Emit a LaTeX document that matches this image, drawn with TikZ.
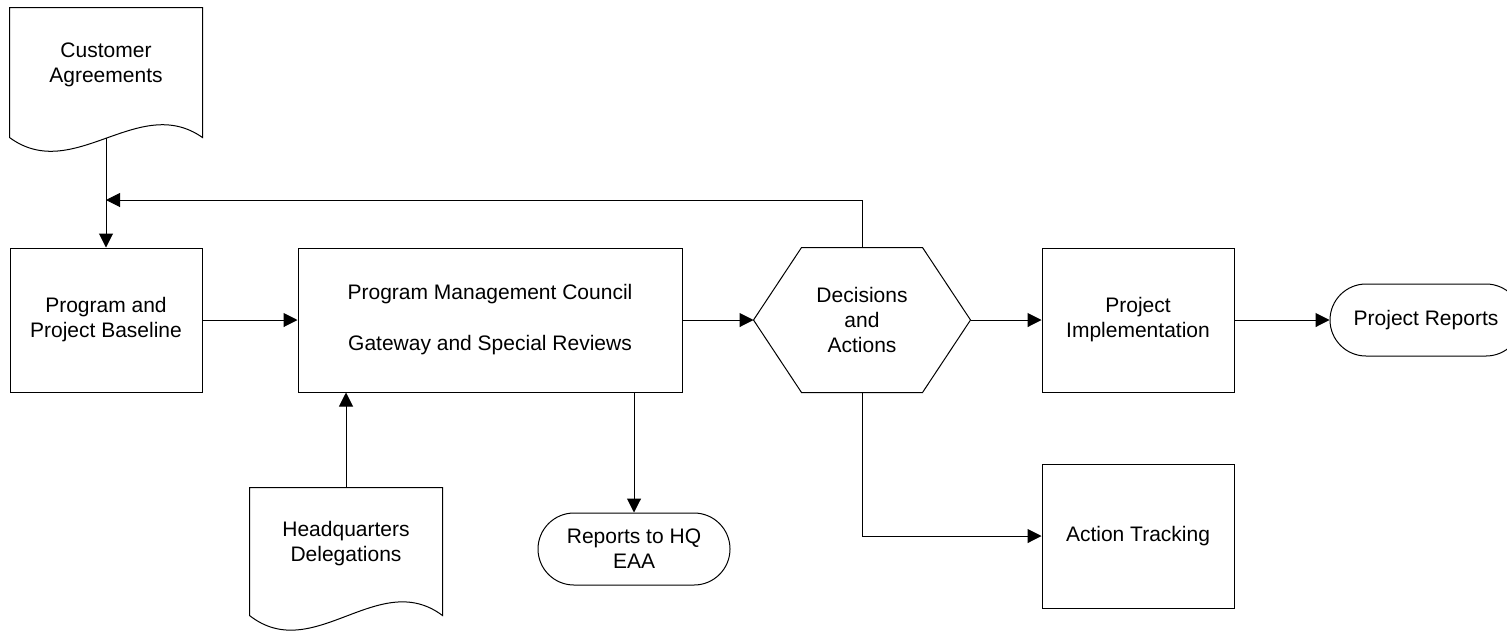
\documentclass[tikz,border=0pt]{standalone}
\usepackage{fontspec}
\setmainfont{Liberation Sans}
\usetikzlibrary{arrows.meta,calc}

\begin{document}
\begin{tikzpicture}[x=0.5pt,y=-0.5pt,line width=0.5pt,font=\fontsize{10.5}{12.5}\selectfont]

    \tikzset{block/.style={%
      draw,%
      rectangle,%
      align=center,%
      minimum width=96pt,%
      minimum height=72pt}%
    };

    \tikzset{wideblock/.style={block, minimum width=192pt}};
    \tikzset{docblock/.style={rectangle, align=center, minimum width=96pt, minimum height=57pt}};
    \tikzset{hexblock/.style={rectangle, align=center, minimum width=108pt, minimum height=72pt}};
    \tikzset{termblock/.style={draw, rectangle, rounded corners=18pt, align=center, minimum width=96pt, minimum height=36pt}};
    \tikzset{flow/.style={-{Triangle[length=7pt,width=7pt]}}};

    \useasboundingbox (0,0) rectangle (1507,633);

    %%%%%%%%%%%%%%%
    %  documents  %
    %%%%%%%%%%%%%%%
    \node [docblock] (cust) at (106,65) {Customer\\Agreements};
    \draw (cust.south west) -- (cust.north west) -- (cust.north east) -- ($(cust.south east)+(0,15)$)
      .. controls ($(cust.south east)+(-64,-30)$) and ($(cust.south west)+(64,62)$) .. ($(cust.south west)+(0,15)$) -- cycle;

    \node [docblock, minimum height=56pt] (hq) at (346,544) {Headquarters\\Delegations};
    \draw (hq.south west) -- (hq.north west) -- (hq.north east) -- ($(hq.south east)+(0,15)$)
      .. controls ($(hq.south east)+(-64,-33)$) and ($(hq.south west)+(64,65)$) .. ($(hq.south west)+(0,15)$) -- cycle;

    %%%%%%%%%%%%%%%
    %  process    %
    %%%%%%%%%%%%%%%
    \node [block] (prog) at (106,320) {Program and\\Project Baseline};
    \node [wideblock] (pmc) at (490,320) {Program Management Council\\[13pt]Gateway and Special Reviews};
    \node [hexblock] (dec) at (862,320) {Decisions\\and\\Actions};
    \draw (dec.west) -- ($(dec.north west)+(48,0)$) -- ($(dec.north east)+(-48,0)$) -- (dec.east)
      -- ($(dec.south east)+(-48,0)$) -- ($(dec.south west)+(48,0)$) -- cycle;
    \node [block] (impl) at (1138,320) {Project\\Implementation};
    \node [block] (act) at (1138,536) {Action Tracking};
    \node [termblock] (prep) at (1426,320) {Project Reports};
    \node [termblock] (hqrep) at (634,549) {Reports to HQ\\EAA};

    \coordinate (merge) at (106,200);

    \draw [flow] ($(cust.south)+(0,15)$) -- (prog.north);
    \draw [flow] (dec.north) |- (merge);
    \draw [flow] (prog) -- (pmc);
    \draw [flow] (hq.north) -- (hq.north |- pmc.south);
    \draw [flow] (pmc.south -| hqrep.north) -- (hqrep.north);
    \draw [flow] (pmc) -- (dec.west);
    \draw [flow] (dec.east) -- (impl);
    \draw [flow] (impl) -- (prep);
    \draw [flow] (dec.south) |- (act.west);

  \end{tikzpicture}
\end{document}
